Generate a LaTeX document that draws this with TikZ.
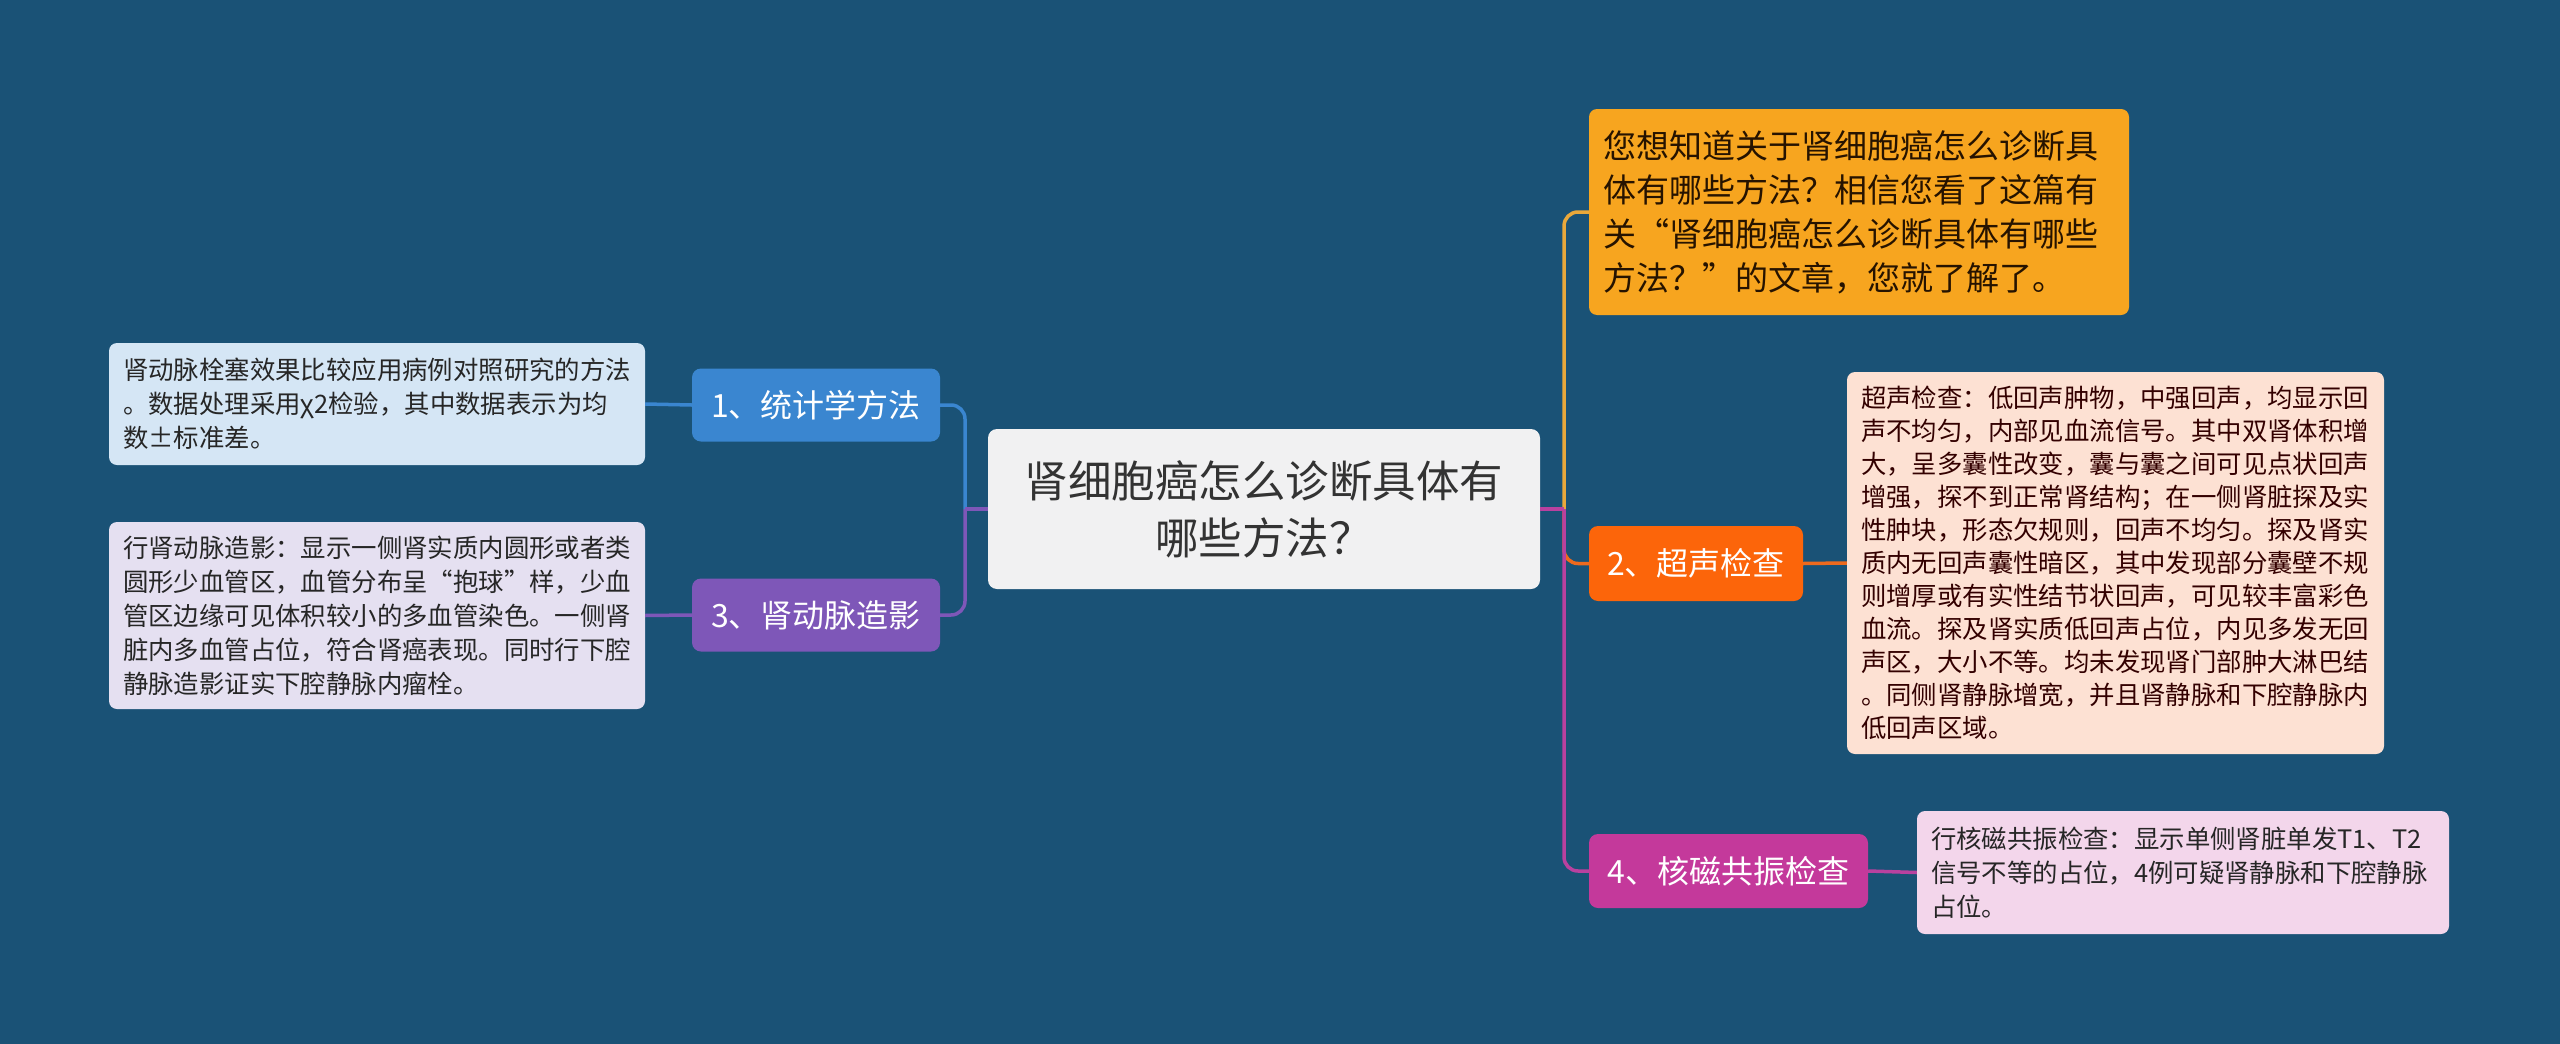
\documentclass[tikz,border=0pt]{standalone}
\usepackage{fontspec}
\setmainfont{Noto Sans CJK SC}
\definecolor{bg}{HTML}{1A5276}
\definecolor{rootfill}{HTML}{F1F1F2}
\definecolor{cblue}{HTML}{3A86D0}
\definecolor{cpurple}{HTML}{7E57B8}
\definecolor{corange}{HTML}{F7A51F}
\definecolor{cred}{HTML}{FC650A}
\definecolor{cmag}{HTML}{C4399B}
\definecolor{fblue}{HTML}{D5E6F5}
\definecolor{fpurple}{HTML}{E5E0F1}
\definecolor{fpeach}{HTML}{FDE1D3}
\definecolor{fpink}{HTML}{F3D6EB}
\definecolor{lineor}{HTML}{E9A83B}
\definecolor{linered}{HTML}{EE6A1E}
\definecolor{linemag}{HTML}{B9419F}
\begin{document}
\begin{tikzpicture}[x=1pt,y=-1pt,
  rootbox/.style={fill=rootfill, rounded corners=9pt, minimum width=552pt, minimum height=160pt,
    align=center, text=black!80, font=\fontsize{43.5}{57}\selectfont, inner sep=0pt},
  branch/.style={rounded corners=9pt, minimum height=73pt, align=center, text=white,
    font=\fontsize{32}{40}\selectfont, inner sep=0pt},
  detail/.style={rounded corners=8pt, align=left, inner xsep=14pt, inner ysep=0pt,
    font=\fontsize{25.4}{34}\selectfont, text=black!85},
  conn/.style={line width=3.5pt, rounded corners=14pt}
]
\useasboundingbox[fill=bg] (0,0) rectangle (2560,1044);

% root
\node[rootbox] (root) at (1264,509) {肾细胞癌怎么诊断具体有\\哪些方法？};

% left branches
\node[branch, fill=cblue, minimum width=248pt] (n1) at (816,405) {1、统计学方法};
\node[branch, fill=cpurple, minimum width=248pt] (n3) at (816,615) {3、肾动脉造影};

\node[detail, fill=fblue, text width=508pt, minimum height=122pt] (b1) at (377,404)
 {肾动脉栓塞效果比较应用病例对照研究的方法\\。数据处理采用χ2检验，其中数据表示为均\\数±标准差。};
\node[detail, fill=fpurple, text width=508pt, minimum height=187pt] (b3) at (377,615.5)
 {行肾动脉造影：显示一侧肾实质内圆形或者类\\圆形少血管区，血管分布呈“抱球”样，少血\\管区边缘可见体积较小的多血管染色。一侧肾\\脏内多血管占位，符合肾癌表现。同时行下腔\\静脉造影证实下腔静脉内瘤栓。};

% right branches
\node[detail, fill=corange, text=black!85!orange, text width=512pt, minimum height=206pt,
  font=\fontsize{33}{44}\selectfont] (top) at (1859,212)
 {您想知道关于肾细胞癌怎么诊断具\\体有哪些方法？相信您看了这篇有\\关“肾细胞癌怎么诊断具体有哪些\\方法？”的文章，您就了解了。};

\node[branch, fill=cred, minimum width=214pt, minimum height=75pt] (n2) at (1696,563.5) {2、超声检查};
\node[branch, fill=cmag, minimum width=279pt, minimum height=74pt] (n4) at (1728.5,871) {4、核磁共振检查};

\node[detail, fill=fpeach, text=black!80!red, text width=509pt, minimum height=382pt,
  font=\fontsize{25.4}{33}\selectfont] (b2) at (2115.5,563)
 {超声检查：低回声肿物，中强回声，均显示回\\声不均匀，内部见血流信号。其中双肾体积增\\大，呈多囊性改变，囊与囊之间可见点状回声\\增强，探不到正常肾结构；在一侧肾脏探及实\\性肿块，形态欠规则，回声不均匀。探及肾实\\质内无回声囊性暗区，其中发现部分囊壁不规\\则增厚或有实性结节状回声，可见较丰富彩色\\血流。探及肾实质低回声占位，内见多发无回\\声区，大小不等。均未发现肾门部肿大淋巴结\\。同侧肾静脉增宽，并且肾静脉和下腔静脉内\\低回声区域。};

\node[detail, fill=fpink, text width=504pt, minimum height=123pt] (b4) at (2183,872.5)
 {行核磁共振检查：显示单侧肾脏单发T1、T2\\信号不等的占位，4例可疑肾静脉和下腔静脉\\占位。};

% junctions
\coordinate (jl) at (965,509);
\coordinate (jr) at (1564,509);

% left connectors
\draw[conn, cblue] (jl) |- (n1.east);
\draw[conn, cpurple] (jl) |- (n3.east);
\draw[line width=3.5pt, cpurple] (root.west) -- (jl);
\draw[line width=3.5pt, cblue] (n1.west) -- (b1.east);
\draw[line width=3.5pt, cpurple] (n3.west) -- (b3.east);

% right connectors
\draw[conn, lineor] (jr) |- (top.west);
\draw[conn, linered] (jr) |- (n2.west);
\draw[conn, linemag] (jr) |- (n4.west);
\draw[line width=3.5pt, linemag] (root.east) -- (jr);
\draw[line width=3.5pt, linered] (n2.east) -- (b2.west);
\draw[line width=3.5pt, linemag] (n4.east) -- (b4.west);
\end{tikzpicture}
\end{document}
